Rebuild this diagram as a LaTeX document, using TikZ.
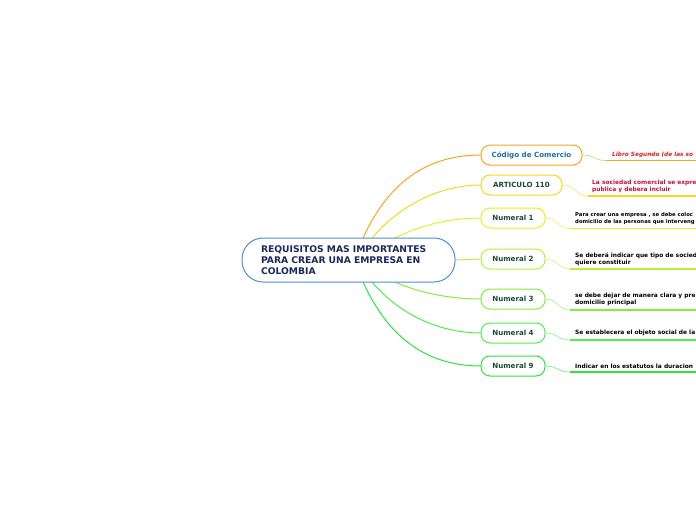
\documentclass[tikz,border=0pt]{standalone}
\usepackage{fontspec}
\setmainfont{DejaVu Sans}
\definecolor{cblue}{HTML}{4A90D9}
\definecolor{cnavy}{HTML}{1A2A5A}
\definecolor{corange}{HTML}{F5A623}
\definecolor{cyellow}{HTML}{F8D81C}
\definecolor{cyg}{HTML}{E4F222}
\definecolor{cg1}{HTML}{B4F03C}
\definecolor{cg2}{HTML}{80F040}
\definecolor{cg3}{HTML}{50EE4C}
\definecolor{cg4}{HTML}{30E43A}
\definecolor{ctext}{HTML}{1A4A3A}
\definecolor{cteal}{HTML}{1F6FA8}
\definecolor{cred}{HTML}{E02020}
\definecolor{ccrim}{HTML}{C0143C}
\tikzset{
  x=1pt, y=-1pt,
  central/.style={draw=cblue, line width=1pt, fill=white, rounded corners=21pt,
    minimum width=213pt, minimum height=44pt, text width=175pt, inner xsep=19pt,
    align=left, font=\bfseries\fontsize{9.2}{11}\selectfont, text=cnavy},
  child/.style={draw=#1, line width=1pt, fill=white, rounded corners=9pt,
    minimum height=20pt, inner sep=0pt, font=\bfseries\fontsize{7.1}{8}\selectfont, text=ctext},
  mainlink/.style={draw=#1, line width=1pt},
  leaflink/.style={draw=#1, line width=0.6pt, opacity=0.7},
  uline/.style={draw=#1, line width=1.5pt},
  leaftext/.style={anchor=south west, inner sep=0pt, align=left, text=black,
    font=\bfseries\fontsize{5.9}{7}\selectfont},
}
\begin{document}
\begin{tikzpicture}
\useasboundingbox (0,0) rectangle (696,520);
\clip (0,0) rectangle (696,520);
\fill[white] (0,0) rectangle (696,520);

% connector start points on central node
\coordinate (s1) at (363,238);
\coordinate (s2) at (372,238);
\coordinate (s3) at (393,239);
\coordinate (s5) at (395,282);
\coordinate (s6) at (372,282);
\coordinate (s7) at (363,282);

% main connectors (drawn first, under nodes)
\draw[mainlink=corange] (s1) .. controls (385,190) and (420,155) .. (481,155);
\draw[mainlink=cyellow] (s2) .. controls (400,205) and (440,185) .. (481,185);
\draw[mainlink=cyg] (s3) .. controls (420,225) and (450,218) .. (481,218);
\draw[mainlink=cg2] (s5) .. controls (420,293) and (450,299) .. (481,299);
\draw[mainlink=cg3] (s6) .. controls (400,315) and (440,333) .. (481,333);
\draw[mainlink=cg4] (s7) .. controls (385,330) and (420,366) .. (481,366);

\node[central] (c) at (348.5,260) {REQUISITOS MAS IMPORTANTES PARA CREAR UNA EMPRESA EN COLOMBIA};

\node[child=corange, minimum width=101pt, text=cteal] (n0) at (531.5,155) {Código de Comercio};
\node[child=cyellow, minimum width=81pt] (n1) at (521.5,185) {ARTICULO 110};
\node[child=cyg, minimum width=64pt] (n2) at (513,218) {Numeral 1};
\node[child=cg1, minimum width=64pt] (n3) at (513,259) {Numeral 2};
\node[child=cg2, minimum width=64pt] (n4) at (513,299) {Numeral 3};
\node[child=cg3, minimum width=64pt] (n5) at (513,333) {Numeral 4};
\node[child=cg4, minimum width=64pt] (n6) at (513,366) {Numeral 9};

\draw[mainlink=cg1] (c.east) -- (n3.west);

% leaf start points
\coordinate (l0) at (606,160.5);
\coordinate (l1) at (588,196);
\coordinate (l2) at (570,228.5);
\coordinate (l3) at (570,269);
\coordinate (l4) at (570,310);
\coordinate (l5) at (570,340);
\coordinate (l6) at (570,372);
\coordinate (e0) at (696,160.5);
\coordinate (e1) at (696,196);
\coordinate (e2) at (696,228.5);
\coordinate (e3) at (696,269);
\coordinate (e4) at (696,310);
\coordinate (e5) at (696,340);
\coordinate (e6) at (696,372);

\draw[leaflink=corange] (n0.east) .. controls +(12,0) and +(-12,0) .. (l0);
\draw[leaflink=cyellow] (n1.east) .. controls +(12,0) and +(-12,0) .. (l1);
\draw[leaflink=cyg] (n2.east) .. controls +(12,0) and +(-12,0) .. (l2);
\draw[leaflink=cg1] (n3.east) .. controls +(12,0) and +(-12,0) .. (l3);
\draw[leaflink=cg2] (n4.east) .. controls +(12,0) and +(-12,0) .. (l4);
\draw[leaflink=cg3] (n5.east) .. controls +(12,0) and +(-12,0) .. (l5);
\draw[leaflink=cg4] (n6.east) .. controls +(12,0) and +(-12,0) .. (l6);

\draw[uline=corange] (l0) -- (e0);
\draw[uline=cyellow] (l1) -- (e1);
\draw[uline=cyg] (l2) -- (e2);
\draw[uline=cg1] (l3) -- (e3);
\draw[uline=cg2] (l4) -- (e4);
\draw[uline=cg3] (l5) -- (e5);
\draw[uline=cg4] (l6) -- (e6);

\node[leaftext, text=cred, font=\bfseries\itshape\fontsize{5.8}{7}\selectfont] (t0) at (612,158) {Libro Segundo (de las so};
\node[leaftext, text=ccrim, font=\bfseries\fontsize{5.9}{7.2}\selectfont] (t1) at (592,193) {La sociedad comercial se expre\\publica y debera incluir};
\node[leaftext, font=\bfseries\fontsize{5.3}{7}\selectfont] (t2) at (575,225) {Para crear una empresa , se debe coloc\\domicilio de las personas que interveng};
\node[leaftext] (t3) at (575,266) {Se deberá indicar que tipo de socied\\quiere constituir};
\node[leaftext] (t4) at (575,306) {se debe dejar de manera clara y pre\\domicilio principal};
\node[leaftext] (t5) at (575,336) {Se establecera el objeto social de la};
\node[leaftext] (t6) at (575,369) {Indicar en los estatutos la duracion};
\end{tikzpicture}
\end{document}
